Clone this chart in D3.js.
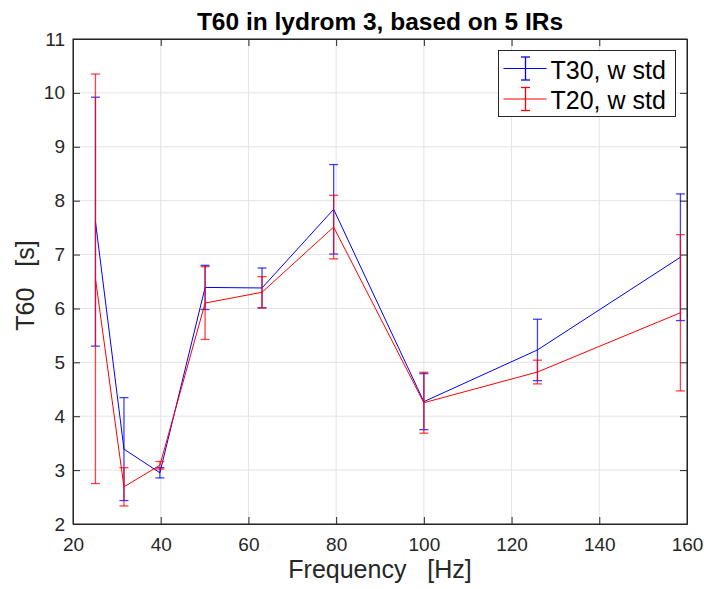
<!DOCTYPE html>
<html>
<head>
<meta charset="utf-8">
<script src="https://cdn.jsdelivr.net/npm/d3@7/dist/d3.min.js"></script>
<style>
    body { margin: 0; background: #fff; }
    text { font-family: "Liberation Sans", Arial, Helvetica, sans-serif; }
</style>
</head>
<body>
<svg id="chart" width="704" height="589"></svg>
<script>
    // third-octave band centres
    var freqs = [25.12, 31.62, 39.81, 50.12, 63.1, 79.43, 100, 125.9, 158.5];

    var t30 = [7.61, 3.39, 2.95, 6.39, 6.38, 7.84, 4.27, 5.23, 6.95];
    var t30std = [2.31, 0.955, 0.095, 0.41, 0.37, 0.83, 0.52, 0.57, 1.175];

    var t20 = [6.55, 2.69, 3.09, 6.10, 6.30, 7.51, 4.25, 4.82, 5.92];
    var t20std = [3.80, 0.355, 0.07, 0.675, 0.29, 0.59, 0.565, 0.22, 1.45];

    var xTicks = [20, 40, 60, 80, 100, 120, 140, 160];
    var yTicks = [2, 3, 4, 5, 6, 7, 8, 9, 10, 11];

    var series = [
        {name: 'T30, w std', color: '#0000ff', mean: t30, std: t30std},
        {name: 'T20, w std', color: '#ff0000', mean: t20, std: t20std}
    ];

    var AXIS_COLOR = '#262626',
        GRID_COLOR = '#e3e3e3',
        TICK_LEN = 7,
        CAP = 4.5;

    var svg = d3.select('#chart');
    var margin = {top: 39, right: 17, bottom: 65, left: 73},
        width = 704 - margin.left - margin.right,
        height = 589 - margin.top - margin.bottom;

    var x = d3.scaleLinear().domain([20, 160]).range([0, width]);
    var y = d3.scaleLinear().domain([2, 11]).range([height, 0]);

    var g = svg.append('g').attr('transform', 'translate(' + margin.left + ',' + margin.top + ')');

    // grid
    g.append('g').selectAll('line.gx')
        .data(xTicks)
        .enter().append('line')
        .attr('x1', function (d) { return x(d); })
        .attr('x2', function (d) { return x(d); })
        .attr('y1', 0).attr('y2', height)
        .style('stroke', GRID_COLOR);
    g.append('g').selectAll('line.gy')
        .data(yTicks)
        .enter().append('line')
        .attr('y1', function (d) { return y(d); })
        .attr('y2', function (d) { return y(d); })
        .attr('x1', 0).attr('x2', width)
        .style('stroke', GRID_COLOR);

    // axes, ticks pointing inward like matlab
    function styleAxis(sel) {
        sel.selectAll('path').style('stroke', AXIS_COLOR);
        sel.selectAll('line').style('stroke', AXIS_COLOR);
        sel.selectAll('text').style('fill', AXIS_COLOR).style('font-size', '19px');
    }

    var xAxis = g.append('g').attr('transform', 'translate(0,' + height + ')')
        .call(d3.axisBottom(x).tickValues(xTicks).tickSizeInner(-TICK_LEN).tickSizeOuter(0).tickPadding(14));
    styleAxis(xAxis);

    var yAxis = g.append('g')
        .call(d3.axisLeft(y).tickValues(yTicks).tickSizeInner(-TICK_LEN).tickSizeOuter(0).tickPadding(8));
    styleAxis(yAxis);

    var xTop = g.append('g')
        .call(d3.axisTop(x).tickValues(xTicks).tickSizeInner(-TICK_LEN).tickSizeOuter(0).tickFormat(''));
    styleAxis(xTop);
    var yRight = g.append('g').attr('transform', 'translate(' + width + ',0)')
        .call(d3.axisRight(y).tickValues(yTicks).tickSizeInner(-TICK_LEN).tickSizeOuter(0).tickFormat(''));
    styleAxis(yRight);

    // series
    var line = d3.line()
        .x(function (d) { return x(d.f); })
        .y(function (d) { return y(d.m); });

    series.forEach(function (s) {
        var pts = freqs.map(function (f, i) { return {f: f, m: s.mean[i], sd: s.std[i]}; });
        var sg = g.append('g');

        var bars = sg.selectAll('g.err')
            .data(pts)
            .enter().append('g')
            .attr('class', 'err')
            .style('stroke', s.color)
            .style('stroke-opacity', 0.75)
            .style('stroke-width', 1.3);
        bars.append('line')
            .attr('x1', function (d) { return x(d.f); })
            .attr('x2', function (d) { return x(d.f); })
            .attr('y1', function (d) { return y(d.m - d.sd); })
            .attr('y2', function (d) { return y(d.m + d.sd); });
        bars.append('line')
            .attr('x1', function (d) { return x(d.f) - CAP; })
            .attr('x2', function (d) { return x(d.f) + CAP; })
            .attr('y1', function (d) { return y(d.m + d.sd); })
            .attr('y2', function (d) { return y(d.m + d.sd); });
        bars.append('line')
            .attr('x1', function (d) { return x(d.f) - CAP; })
            .attr('x2', function (d) { return x(d.f) + CAP; })
            .attr('y1', function (d) { return y(d.m - d.sd); })
            .attr('y2', function (d) { return y(d.m - d.sd); });

        sg.append('path')
            .datum(pts)
            .attr('d', line)
            .style('fill', 'none')
            .style('stroke', s.color)
            .style('stroke-width', 1);
    });

    // box
    g.append('rect')
        .attr('width', width).attr('height', height)
        .style('fill', 'none')
        .style('stroke', AXIS_COLOR)
        .style('stroke-width', 1);

    // title and labels
    svg.append('text')
        .attr('x', margin.left + width / 2)
        .attr('y', 30)
        .attr('text-anchor', 'middle')
        .style('font-size', '24.5px')
        .style('font-weight', 'bold')
        .style('fill', '#000')
        .text('T60 in lydrom 3, based on 5 IRs');

    svg.append('text')
        .attr('x', margin.left + width / 2)
        .attr('y', 578)
        .attr('text-anchor', 'middle')
        .style('font-size', '25px')
        .style('fill', AXIS_COLOR)
        .style('white-space', 'pre')
        .text('Frequency   [Hz]');

    svg.append('text')
        .attr('transform', 'translate(34,' + (margin.top + height / 2 + 4) + ') rotate(-90)')
        .attr('text-anchor', 'middle')
        .style('font-size', '25px')
        .style('fill', AXIS_COLOR)
        .style('white-space', 'pre')
        .text('T60   [s]');

    // legend
    var lg = svg.append('g').attr('transform', 'translate(498.5,50.5)');
    lg.append('rect')
        .attr('width', 177).attr('height', 66)
        .style('fill', '#fff')
        .style('stroke', AXIS_COLOR)
        .style('stroke-width', 1);

    var items = lg.selectAll('g.item')
        .data(series)
        .enter().append('g')
        .attr('transform', function (d, i) { return 'translate(0,' + (18 + i * 30.5) + ')'; });
    items.append('line')
        .attr('x1', 5).attr('x2', 48)
        .style('stroke', function (d) { return d.color; });
    items.append('line')
        .attr('x1', 27).attr('x2', 27)
        .attr('y1', -11.5).attr('y2', 11.5)
        .style('stroke', function (d) { return d.color; })
        .style('stroke-width', 1.3);
    items.append('line')
        .attr('x1', 27 - CAP).attr('x2', 27 + CAP)
        .attr('y1', -11.5).attr('y2', -11.5)
        .style('stroke', function (d) { return d.color; })
        .style('stroke-width', 1.3);
    items.append('line')
        .attr('x1', 27 - CAP).attr('x2', 27 + CAP)
        .attr('y1', 11.5).attr('y2', 11.5)
        .style('stroke', function (d) { return d.color; })
        .style('stroke-width', 1.3);
    items.append('text')
        .attr('x', 52)
        .attr('y', 10)
        .style('font-size', '25px')
        .style('fill', '#000')
        .text(function (d) { return d.name; });
</script>
</body>
</html>
